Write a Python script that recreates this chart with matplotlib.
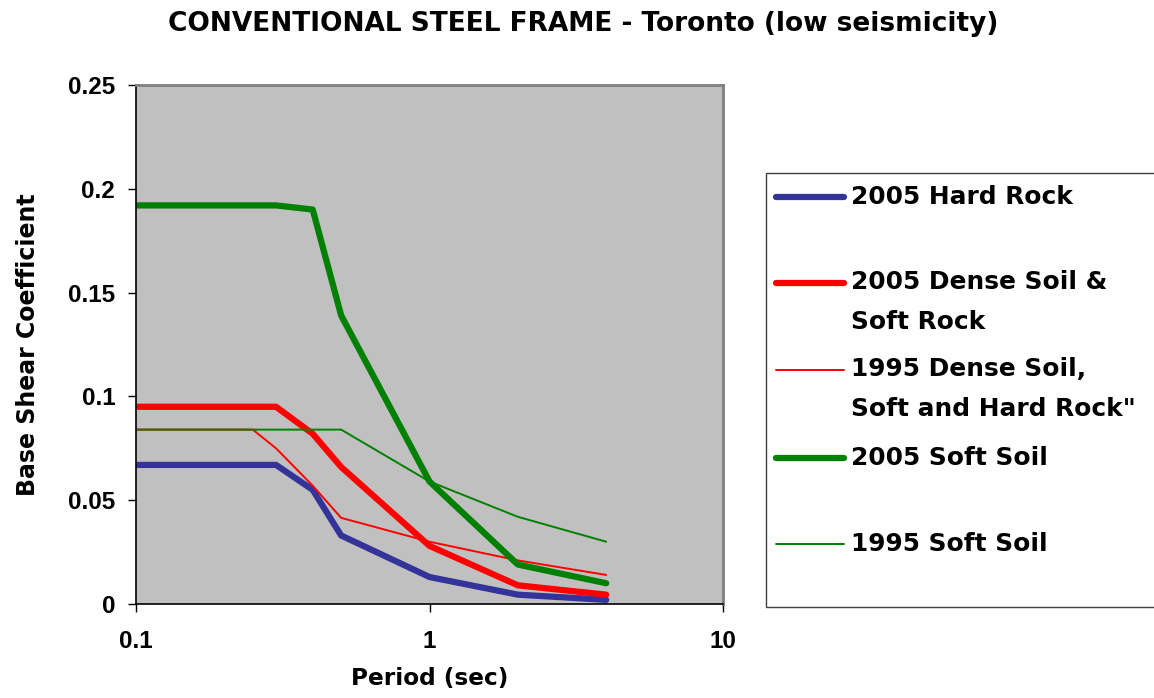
import matplotlib
matplotlib.use("Agg")
import matplotlib.pyplot as plt
from matplotlib.font_manager import FontProperties
from matplotlib.lines import Line2D
from matplotlib.patches import Rectangle

plt.rcParams["font.family"] = ["DejaVu Sans"]
plt.rcParams["font.weight"] = "bold"
TICK_FONT = FontProperties(family="Liberation Sans", weight="bold", size=17.5)

# periods (sec)
t_2005 = [0.1, 0.15, 0.3, 0.4, 0.5, 1.0, 2.0, 4.0]
t_1995_dense = [0.1, 0.15, 0.25, 0.3, 0.4, 0.5, 1.0, 2.0, 4.0]
t_1995_soft = [0.1, 0.15, 0.3, 0.5, 1.0, 2.0, 4.0]

hard_rock_2005 = [0.067, 0.067, 0.067, 0.055, 0.033, 0.013, 0.0045, 0.002]
dense_soil_2005 = [0.095, 0.095, 0.095, 0.082, 0.066, 0.028, 0.009, 0.0045]
dense_soil_1995 = [0.084, 0.084, 0.084, 0.075, 0.057, 0.0415, 0.030, 0.021, 0.014]
soft_soil_2005 = [0.192, 0.192, 0.192, 0.190, 0.139, 0.059, 0.019, 0.010]
soft_soil_1995 = [0.084, 0.084, 0.084, 0.084, 0.059, 0.042, 0.030]

x_ticks = [0.1, 1, 10]
x_tick_labels = ["0.1", "1", "10"]
y_ticks = [0, 0.05, 0.1, 0.15, 0.2, 0.25]
y_tick_labels = ["0", "0.05", "0.1", "0.15", "0.2", "0.25"]

series = [
    ("2005 Hard Rock", t_2005, hard_rock_2005, "#333399", 4.5),
    ("2005 Dense Soil &\nSoft Rock", t_2005, dense_soil_2005, "#FF0000", 4.5),
    ("1995 Dense Soil,\nSoft and Hard Rock\"", t_1995_dense, dense_soil_1995, "#FF0000", 1.4),
    ("2005 Soft Soil", t_2005, soft_soil_2005, "#008000", 4.5),
    ("1995 Soft Soil", t_1995_soft, soft_soil_1995, "#008000", 1.4),
]

fig = plt.figure(figsize=(11.54, 6.98), dpi=100)
ax = fig.add_axes([136 / 1154, 1 - 604 / 698, (723 - 136) / 1154, (604 - 85) / 698])
ax.set_facecolor("#C0C0C0")

for label, t, v, color, lw in series:
    ax.plot(t, v, color=color, lw=lw, solid_capstyle="round", solid_joinstyle="round")

ax.set_xscale("log")
ax.set_xlim(0.1, 10)
ax.set_ylim(0, 0.25)
ax.set_xticks(x_ticks)
ax.set_xticklabels(x_tick_labels, fontproperties=TICK_FONT)
ax.minorticks_off()
ax.set_yticks(y_ticks)
ax.set_yticklabels(y_tick_labels, fontproperties=TICK_FONT)
ax.tick_params(direction="out", length=6, width=1, colors="black")
ax.tick_params(axis="x", pad=13)
ax.tick_params(axis="y", pad=9)
for side in ("top", "right"):
    ax.spines[side].set_color("#808080")
    ax.spines[side].set_linewidth(2)
for side in ("left", "bottom"):
    ax.spines[side].set_color("black")
    ax.spines[side].set_linewidth(1.2)

ax.set_xlabel("Period (sec)", fontsize=16.7, fontweight="bold", labelpad=10)
ax.set_ylabel("Base Shear Coefficient", fontsize=17, fontweight="bold", labelpad=20)
fig.text(0.505, 1 - 24 / 698, "CONVENTIONAL STEEL FRAME - Toronto (low seismicity)",
         ha="center", va="center", fontsize=19, fontweight="bold")

# legend box drawn by hand to keep the uneven entry spacing
fig.add_artist(Rectangle((766 / 1154, 1 - 607 / 698), 1.0, (607 - 173) / 698,
                         transform=fig.transFigure, facecolor="white",
                         edgecolor="#404040", lw=1))
entry_y = [197, 302, 389, 458, 544]
for (label, t, v, color, lw), y in zip(series, entry_y):
    yf = 1 - y / 698
    line_y = yf if "\n" not in label else 1 - (y - 19) / 698
    fig.add_artist(Line2D([776 / 1154, 844 / 1154], [line_y, line_y], color=color, lw=lw,
                          solid_capstyle="round", transform=fig.transFigure))
    fig.text(851 / 1154, yf, label, ha="left", va="center", fontsize=17.9,
             fontweight="bold", linespacing=1.8)

fig.savefig("out.png", dpi=100)
